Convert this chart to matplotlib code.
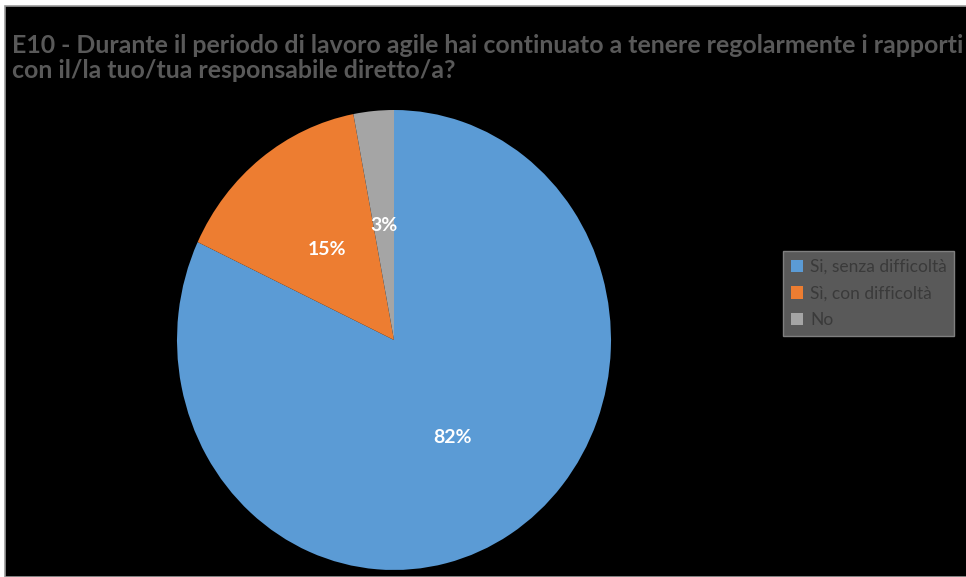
import matplotlib.pyplot as plt
from matplotlib.patches import Rectangle

plt.rcParams['font.family'] = ['Lato', 'DejaVu Sans']

categories = ['Si, senza difficoltà', 'Sì, con difficoltà', 'No']
values = [82, 15, 3]
colors = ['#5B9BD5', '#ED7D31', '#A5A5A5']
title = ('E10 - Durante il periodo di lavoro agile hai continuato a tenere regolarmente i rapporti\n'
         'con il/la tuo/tua responsabile diretto/a?')

W, H = 966, 577
fig = plt.figure(figsize=(W / 100, H / 100), dpi=100, facecolor='white')

# black chart area with thin grey frame on top/left
fig.patches.append(Rectangle((5 / W, 0), 1, (H - 6) / H, transform=fig.transFigure,
                             facecolor='black', edgecolor='#9a9a9a', linewidth=1.2, zorder=-5))

fig.text(12 / W, 1 - 34 / H, title, ha='left', va='top', fontsize=17.9, fontweight='bold',
         color='#595959', linespacing=1.08)

# pie area is slightly squeezed horizontally
cx, cy, rx, ry = 394, 340, 217, 230
ax = fig.add_axes([(cx - rx) / W, (H - cy - ry) / H, 2 * rx / W, 2 * ry / H])
ax.patch.set_visible(False)
wedges, texts, autotexts = ax.pie(values, colors=colors, startangle=90, counterclock=False,
                                  autopct='%1.0f%%', pctdistance=0.5,
                                  wedgeprops=dict(linewidth=0),
                                  textprops=dict(color='white', fontsize=14, fontweight='bold'))
ax.set_xlim(-1, 1)
ax.set_ylim(-1, 1)
ax.set_aspect('auto')

leg = fig.legend(wedges, categories, loc='upper left', bbox_to_anchor=(783 / W, 1 - 251 / H),
                 frameon=True, fancybox=False, facecolor='#595959', edgecolor='#7f7f7f',
                 labelcolor='#3a3a3a', fontsize=12.5, handlelength=0.7, handleheight=0.7,
                 handletextpad=0.4, labelspacing=0.62, borderpad=0.45, borderaxespad=0)
leg.get_frame().set_alpha(1)

fig.savefig('out.png', dpi=100, facecolor='white')
